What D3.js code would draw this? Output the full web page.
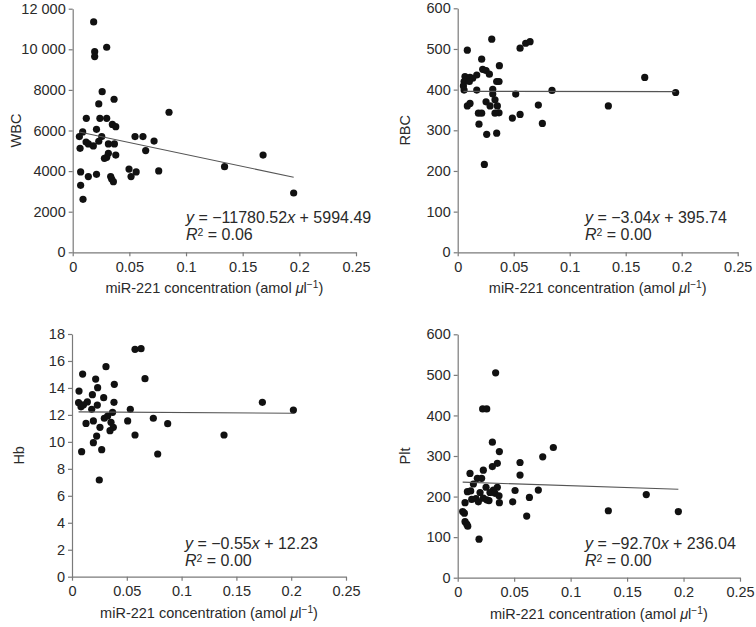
<!DOCTYPE html>
<html><head><meta charset="utf-8">
<script src="https://cdn.jsdelivr.net/npm/d3@7"></script>
<style>body{margin:0;background:#fff}svg{display:block}text{font-family:"Liberation Sans",Arial,sans-serif;fill:#2a2a2a}</style>
</head><body><svg id="c" width="756" height="627"></svg>
<script>
const xTicks = [0, 0.05, 0.1, 0.15, 0.2, 0.25];
const xTickLabels = ["0", "0.05", "0.1", "0.15", "0.2", "0.25"];
const xTitle = "miR-221 concentration (amol ";

const wbcTicks = [0, 2000, 4000, 6000, 8000, 10000, 12000];
const wbcTickLabels = ["0", "2000", "4000", "6000", "8000", "10 000", "12 000"];
const wbcX = [0.0185,0.030,0.0194,0.0194,0.026,0.0365,0.023,0.085,0.012,0.024,0.030,0.035,0.038,0.021,0.0088,0.0059,0.0256,0.055,0.062,0.0718,0.0118,0.023,0.0138,0.0182,0.0315,0.0368,0.0065,0.0644,0.0315,0.030,0.028,0.038,0.168,0.134,0.0497,0.007,0.056,0.0759,0.0138,0.021,0.0515,0.0335,0.0344,0.0359,0.007,0.0091,0.195];
const wbcY = [11350,10100,9885,9640,7915,7540,7310,6900,6600,6600,6600,6300,6190,6060,5930,5700,5700,5700,5700,5480,5430,5470,5340,5240,5340,5340,5120,5010,4880,4680,4630,4790,4790,4220,4100,3960,3960,4010,3730,3840,3730,3730,3610,3480,3300,2610,2920];

const rbcTicks = [0, 100, 200, 300, 400, 500, 600];
const rbcX = [0.0304,0.0086,0.0557,0.0607,0.0646,0.0214,0.0372,0.0223,0.0253,0.0283,0.0065,0.017,0.011,0.0134,0.0086,0.0057,0.0051,0.0104,0.0369,0.0348,0.167,0.0057,0.017,0.0313,0.0313,0.0518,0.0842,0.1946,0.0333,0.0253,0.0289,0.0354,0.0086,0.011,0.072,0.1345,0.0369,0.0333,0.0185,0.0214,0.0557,0.0488,0.0756,0.019,0.0259,0.0348,0.0238];
const rbcY = [524,497,502,514,518,475,459,450,447,438,432,436,430,428,424,420,409,420,420,420,430,399,399,401,389,389,398,393,375,370,360,360,360,366,362,360,343,342,342,342,339,330,317,315,290,293,216];

const hbTicks = [0, 2, 4, 6, 8, 10, 12, 14, 16, 18];
const hbX = [0.0575,0.063,0.031,0.0097,0.0216,0.0666,0.0386,0.0234,0.0064,0.0186,0.0289,0.006,0.014,0.0383,0.1737,0.202,0.0082,0.0105,0.0231,0.018,0.0532,0.037,0.0325,0.0295,0.0742,0.0195,0.0508,0.0128,0.0873,0.0356,0.0377,0.0255,0.0347,0.0225,0.0575,0.1387,0.0195,0.0271,0.0088,0.0782,0.0249];
const hbY = [16.86,16.91,15.58,15.03,14.66,14.69,14.27,14.02,13.77,13.5,13.28,12.91,12.96,12.93,12.93,12.36,12.6,12.75,12.73,12.41,12.41,12.19,11.92,11.75,11.75,11.55,11.55,11.37,11.35,11.45,11.08,11.08,10.83,10.43,10.51,10.51,9.94,9.42,9.27,9.1,7.17];

const pltTicks = [0, 100, 200, 300, 400, 500, 600];
const pltX = [0.0336,0.0221,0.0257,0.0307,0.0847,0.0369,0.0753,0.0552,0.0351,0.0307,0.0552,0.0109,0.0174,0.0212,0.0227,0.0139,0.0251,0.0351,0.0316,0.0508,0.0714,0.167,0.0086,0.0115,0.0198,0.0286,0.033,0.0366,0.0635,0.0162,0.0124,0.0227,0.0257,0.0277,0.0183,0.0369,0.0487,0.0065,0.1334,0.1954,0.0044,0.0059,0.0611,0.0065,0.008,0.0089,0.0189];
const pltY = [505,416,416,334,321,311,298,284,282,274,253,257,245,245,265,231,223,223,216,215,216,205,212,214,210,210,208,202,198,195,193,196,192,190,187,185,187,185,165,163,163,159,152,138,132,127,95];

const panels = [
  {name:"WBC", xs:wbcX, ys:wbcY, ticks:wbcTicks, labels:wbcTickLabels, slope:-11780.52, icpt:5994.49, eq:["\u2212","11780.52","5994.49"], r2:"0.06",
   x0:72.7, x1:356, yTop:8.7, yBot:252.3, titleX:16, eqX:186, eqY:223},
  {name:"RBC", xs:rbcX, ys:rbcY, ticks:rbcTicks, labels:rbcTicks.map(String), slope:-3.04, icpt:395.74, eq:["\u2212","3.04","395.74"], r2:"0.00",
   x0:457.7, x1:737.7, yTop:8.3, yBot:252.3, titleX:405, eqX:585, eqY:223},
  {name:"Hb", xs:hbX, ys:hbY, ticks:hbTicks, labels:hbTicks.map(String), slope:-0.55, icpt:12.23, eq:["\u2212","0.55","12.23"], r2:"0.00",
   x0:72, x1:346, yTop:334, yBot:576.7, titleX:19, eqX:185, eqY:549},
  {name:"Plt", xs:pltX, ys:pltY, ticks:pltTicks, labels:pltTicks.map(String), slope:-92.70, icpt:236.04, eq:["\u2212","92.70","236.04"], r2:"0.00",
   x0:457.7, x1:740, yTop:334.3, yBot:577.7, titleX:405, eqX:585, eqY:549}
];

const svg = d3.select("#c");
const axisColor = "#7a7a7a";
const fsTick = 14.5, fsTitle = 14.5, fsEq = 16;

panels.forEach(p => {
  const x = d3.scaleLinear().domain([0, 0.25]).range([p.x0, p.x1]);
  const yMax = p.ticks[p.ticks.length - 1];
  const y = d3.scaleLinear().domain([0, yMax]).range([p.yBot, p.yTop]);
  const g = svg.append("g");

  const ya = g.append("g").attr("transform", `translate(${p.x0},0)`)
    .call(d3.axisLeft(y).tickValues(p.ticks).tickFormat((d,i) => p.labels[i]).tickSize(4).tickSizeOuter(0).tickPadding(3));
  const xa = g.append("g").attr("transform", `translate(0,${p.yBot})`)
    .call(d3.axisBottom(x).tickValues(xTicks).tickFormat((d,i) => xTickLabels[i]).tickSize(4).tickSizeOuter(0).tickPadding(5));
  [ya, xa].forEach(a => {
    a.selectAll("path,line").attr("stroke", axisColor).attr("stroke-width", 1.2);
    a.selectAll("text").attr("font-size", fsTick).attr("fill", "#2a2a2a").attr("font-family", '"Liberation Sans",Arial,sans-serif');
  });

  g.append("text").attr("transform", `translate(${p.titleX},${(p.yTop + p.yBot) / 2}) rotate(-90)`)
    .attr("text-anchor", "middle").attr("dominant-baseline", "central").attr("font-size", fsTitle).text(p.name);

  const xt = g.append("text").attr("x", (p.x0 + p.x1) / 2).attr("y", p.yBot + 41)
    .attr("text-anchor", "middle").attr("font-size", fsTitle);
  xt.append("tspan").text(xTitle);
  xt.append("tspan").attr("font-style", "italic").text("\u03bc");
  xt.append("tspan").text("l");
  xt.append("tspan").attr("font-size", fsTitle * 0.7).attr("dy", -5).text("\u22121");
  xt.append("tspan").attr("dy", 5).text(")");

  const pts = p.xs.map((v, i) => [v, p.ys[i]]);
  g.append("g").selectAll("circle").data(pts).join("circle")
    .attr("cx", d => x(d[0])).attr("cy", d => y(d[1])).attr("r", 3.6).attr("fill", "#111");

  const xmin = d3.min(p.xs), xmax = d3.max(p.xs);
  g.append("line").attr("x1", x(xmin)).attr("x2", x(xmax))
    .attr("y1", y(p.slope * xmin + p.icpt)).attr("y2", y(p.slope * xmax + p.icpt))
    .attr("stroke", "#555").attr("stroke-width", 1.1);

  const eq = g.append("text").attr("x", p.eqX).attr("y", p.eqY).attr("font-size", fsEq);
  eq.append("tspan").attr("font-style", "italic").text("y");
  eq.append("tspan").text(" = " + p.eq[0] + p.eq[1]);
  eq.append("tspan").attr("font-style", "italic").text("x");
  eq.append("tspan").text(" + " + p.eq[2]);
  const r = g.append("text").attr("x", p.eqX).attr("y", p.eqY + 17).attr("font-size", fsEq);
  r.append("tspan").attr("font-style", "italic").text("R");
  r.append("tspan").attr("font-size", fsEq * 0.65).attr("dy", -4).text("2");
  r.append("tspan").attr("dy", 4).text(" = " + p.r2);
});
</script>
</body></html>
